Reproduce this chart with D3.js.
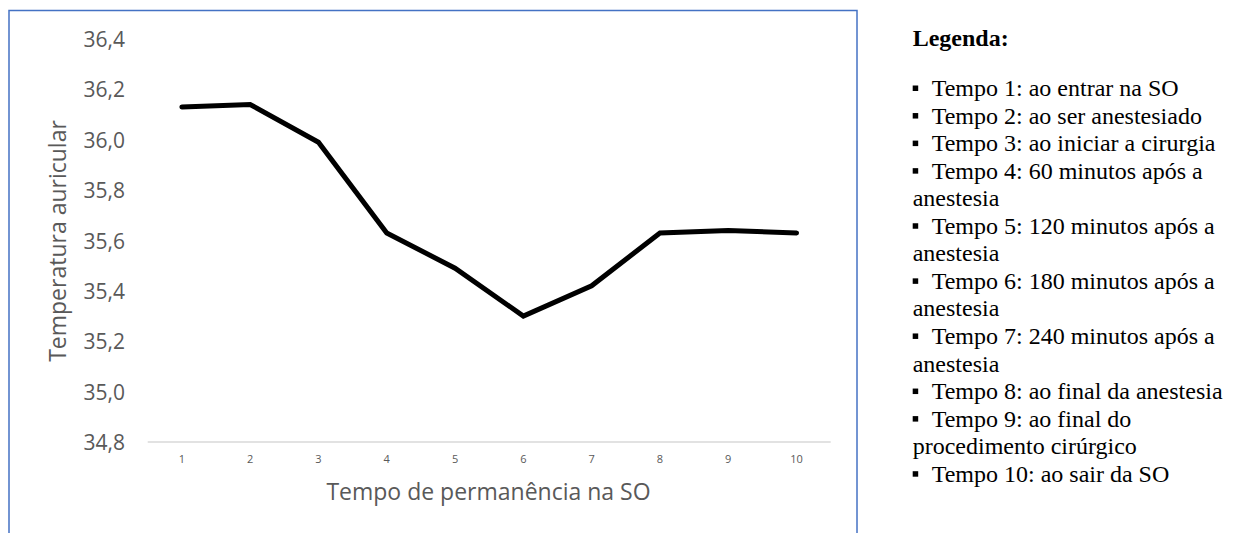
<!DOCTYPE html>
<html>
<head>
<meta charset="utf-8">
<script src="https://cdn.jsdelivr.net/npm/d3@7"></script>
<style>
	body { margin: 0; background: #ffffff; }
</style>
</head>
<body>
<div id="chart"></div>
<script>
var tempos = [1, 2, 3, 4, 5, 6, 7, 8, 9, 10];
var temperatura = [36.13, 36.14, 35.99, 35.63, 35.49, 35.30, 35.42, 35.63, 35.64, 35.63];
var yTicks = [34.8, 35.0, 35.2, 35.4, 35.6, 35.8, 36.0, 36.2, 36.4];
var legendTitle = "Legenda:";
// each item: first line gets the bullet, following lines are the wrap
var legendItems = [
	["Tempo 1: ao entrar na SO"],
	["Tempo 2: ao ser anestesiado"],
	["Tempo 3: ao iniciar a cirurgia"],
	["Tempo 4: 60 minutos após a", "anestesia"],
	["Tempo 5: 120 minutos após a", "anestesia"],
	["Tempo 6: 180 minutos após a", "anestesia"],
	["Tempo 7: 240 minutos após a", "anestesia"],
	["Tempo 8: ao final da anestesia"],
	["Tempo 9: ao final do", "procedimento cirúrgico"],
	["Tempo 10: ao sair da SO"]
];

var W = 1236, H = 533;
var svg = d3.select("#chart").append("svg")
	.attr("width", W)
	.attr("height", H);

// chart frame
svg.append("rect")
	.attr("x", 9)
	.attr("y", 10.5)
	.attr("width", 848)
	.attr("height", 540)
	.attr("fill", "none")
	.attr("stroke", "#4472C4")
	.attr("stroke-width", 1.5);

var plot = {left: 147.7, right: 830.7, top: 39, bottom: 442};

var x = d3.scaleBand()
	.domain(tempos)
	.range([plot.left, plot.right]);

var y = d3.scaleLinear()
	.domain([34.8, 36.4])
	.range([plot.bottom, plot.top]);

// baseline
svg.append("line")
	.attr("x1", plot.left)
	.attr("x2", plot.right)
	.attr("y1", y(34.8))
	.attr("y2", y(34.8))
	.attr("stroke", "#d9d9d9")
	.attr("stroke-width", 1.3);

var yAxis = d3.axisLeft(y)
	.tickValues(yTicks)
	.tickSize(0)
	.tickPadding(0)
	.tickFormat(function(d) { return d3.format(".1f")(d).replace(".", ","); });

var yg = svg.append("g")
	.attr("transform", "translate(125,0)")
	.call(yAxis);
yg.select(".domain").remove();
yg.selectAll("text")
	.attr("font-family", "'Open Sans', sans-serif")
	.attr("font-size", "21px")
	.attr("fill", "#595959")
	.attr("dy", "0.36em");

var xAxis = d3.axisBottom(x)
	.tickSize(0)
	.tickPadding(0);

var xg = svg.append("g")
	.attr("transform", "translate(0,455)")
	.call(xAxis);
xg.select(".domain").remove();
xg.selectAll("text")
	.attr("font-family", "'Open Sans', sans-serif")
	.attr("font-size", "11px")
	.attr("fill", "#595959")
	.attr("dy", "0.71em");

// axis titles
svg.append("text")
	.attr("text-anchor", "middle")
	.attr("transform", "translate(66,241) rotate(-90)")
	.text("Temperatura auricular")
	.attr("font-family", "'Open Sans', sans-serif")
	.attr("font-size", "23px")
	.attr("fill", "#595959");

svg.append("text")
	.attr("text-anchor", "middle")
	.attr("x", 488.5)
	.attr("y", 500)
	.text("Tempo de permanência na SO")
	.attr("font-family", "'Open Sans', sans-serif")
	.attr("font-size", "23px")
	.attr("fill", "#595959");

// the series
var line = d3.line()
	.x(function(d, i) { return x(tempos[i]) + x.bandwidth() / 2; })
	.y(function(d) { return y(d); });

svg.append("path")
	.datum(temperatura)
	.attr("d", line)
	.attr("fill", "none")
	.attr("stroke", "#000000")
	.attr("stroke-width", 5)
	.attr("stroke-linecap", "round")
	.attr("stroke-linejoin", "miter");

// legend
var legX = 912.7, bulletTextX = 931.7, firstBase = 96, lineH = 27.55;

svg.append("text")
	.attr("x", legX)
	.attr("y", 45.7)
	.text(legendTitle)
	.attr("font-family", "'Liberation Serif', 'Times New Roman', serif")
	.attr("font-size", "24px")
	.attr("font-weight", "bold")
	.attr("fill", "#000000");

var row = 0;
for (var i = 0; i < legendItems.length; i++) {
	for (var j = 0; j < legendItems[i].length; j++) {
		var base = firstBase + row * lineH;
		if (j == 0) {
			svg.append("rect")
				.attr("x", legX)
				.attr("y", base - 10.5)
				.attr("width", 5.5)
				.attr("height", 5.5)
				.attr("fill", "#000000");
		}
		svg.append("text")
			.attr("x", j == 0 ? bulletTextX : legX)
			.attr("y", base)
			.text(legendItems[i][j])
			.attr("font-family", "'Liberation Serif', 'Times New Roman', serif")
			.attr("font-size", "24px")
			.attr("fill", "#000000");
		row++;
	}
}
</script>
</body>
</html>
